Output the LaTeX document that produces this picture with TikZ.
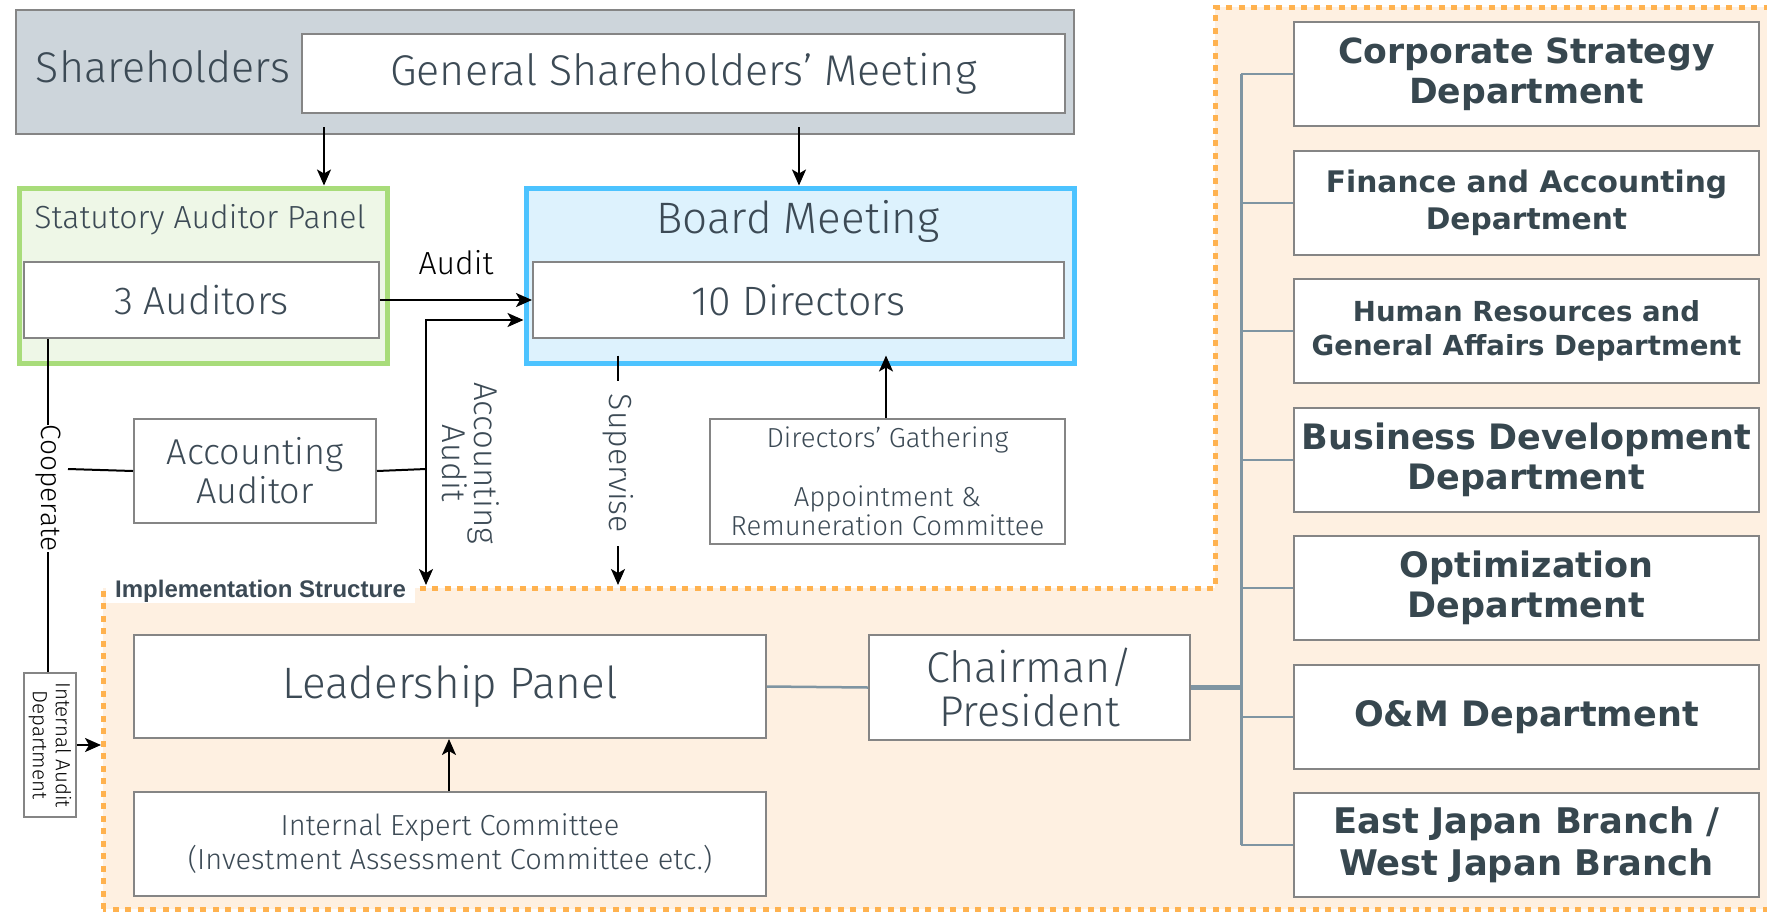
\documentclass[tikz,border=0pt]{standalone}
\usepackage{fontspec}
\setmainfont{Fira Sans Light}
\newfontfamily\deptfont{DejaVu Sans}
\newfontfamily\tagfont{Liberation Sans}
\usetikzlibrary{arrows.meta,calc}

\definecolor{ink}{HTML}{3C4A55}
\definecolor{deptink}{HTML}{37474F}
\definecolor{framegray}{HTML}{858585}
\definecolor{shfill}{HTML}{CDD5DB}
\definecolor{auditgreen}{HTML}{A8DC7A}
\definecolor{auditfill}{HTML}{EEF7E7}
\definecolor{boardblue}{HTML}{4CC3FF}
\definecolor{boardfill}{HTML}{DDF2FD}
\definecolor{implfill}{HTML}{FEF0E1}
\definecolor{impldot}{HTML}{FFB24F}
\definecolor{linkgray}{HTML}{7F95A2}

\newcommand\fs[2]{\fontsize{#1}{#2}\selectfont}

\begin{document}
\begin{tikzpicture}[x=1pt,y=-1pt,
  every node/.style={inner sep=0pt},
  box/.style={draw=framegray,line width=2pt,fill=white,anchor=north west,text=ink,align=center},
  dept/.style={box,minimum width=465pt,minimum height=104pt,text=deptink},
  arr/.style={line width=2pt,-{Stealth[length=16pt,width=14pt,inset=4pt]}},
  plain/.style={line width=2pt},
  link/.style={draw=linkgray,line width=2.5pt}]

\useasboundingbox (0,0) rectangle (1767,911);
\clip (0,0) rectangle (1767,911);

% implementation area (dotted outline)
\draw[fill=implfill,draw=impldot,line width=5pt,dash pattern=on 6pt off 6.5pt]
  (103,909) -- (103,588) -- (1215,588) -- (1215,7) -- (1790,7) -- (1790,909) -- cycle;
\node[fill=white,anchor=north west,text=ink,font=\tagfont\bfseries\fs{24}{24},
  inner xsep=9pt,text height=17pt,text depth=6pt] (impltag) at (106,580) {Implementation Structure};

% shareholders
\node[draw=framegray,line width=1.5pt,fill=shfill,anchor=north west,
  minimum width=1058pt,minimum height=124pt] (sh) at (15,9) {};
\node[anchor=base,text=ink,font=\fs{43}{50}] (shtext) at (163,82) {Shareholders};
\node[box,minimum width=763pt,minimum height=79pt,font=\fs{43}{50}] (gsm) at (301,33)
  {General Shareholders’ Meeting};

% statutory auditors
\node[draw=auditgreen,line width=5pt,fill=auditfill,anchor=north west,
  minimum width=368pt,minimum height=175pt] (sap) at (16.5,185.5) {};
\node[anchor=base,text=ink,font=\fs{32}{38}] (saptitle) at (200,228) {Statutory Auditor Panel};
\node[box,minimum width=355pt,minimum height=76pt,font=\fs{39}{44}] (aud) at (23,261) {3 Auditors};

% board
\node[draw=boardblue,line width=5pt,fill=boardfill,anchor=north west,
  minimum width=548pt,minimum height=175pt] (board) at (523.5,185.5) {};
\node[anchor=base,text=ink,font=\fs{44}{50}] (boardtitle) at (798,233) {Board Meeting};
\node[box,minimum width=531pt,minimum height=76pt,font=\fs{41}{46}] (dir) at (532,261) {10 Directors};

% accounting auditor, internal audit, directors' gathering
\node[box,minimum width=242pt,minimum height=104pt,font=\fs{36}{39}] (aa) at (133,418)
  {Accounting\\Auditor};
\node[box,minimum width=52pt,minimum height=144pt] (iad) at (23,672) {};
\node[rotate=-90,align=center,text=black,font=\fs{20.5}{23}] (iadtext) at (iad.center)
  {Internal Audit\\Department};
\node[box,minimum width=355pt,minimum height=125pt,font=\fs{27.5}{29.5}] (dg) at (709,418)
  {Directors’ Gathering\\[29.5pt]Appointment \&\\Remuneration Committee};

% implementation structure
\node[box,minimum width=632pt,minimum height=103pt,font=\fs{44}{50}] (lp) at (133,634) {Leadership Panel};
\node[box,minimum width=632pt,minimum height=104pt,font=\fs{29}{34}] (iec) at (133,791)
  {Internal Expert Committee\\(Investment Assessment Committee etc.)};
\node[box,minimum width=321pt,minimum height=105pt,font=\fs{43}{44}] (ch) at (868,634)
  {Chairman/\\President};

% departments
\node[dept,font=\deptfont\bfseries\fs{34.6}{40}] (d1) at (1293,21) {Corporate Strategy\\Department};
\node[dept,font=\deptfont\bfseries\fs{29.7}{37}] (d2) at (1293,150) {Finance and Accounting\\Department};
\node[dept,font=\deptfont\bfseries\fs{27.6}{34}] (d3) at (1293,278) {Human Resources and\\General Affairs Department};
\node[dept,font=\deptfont\bfseries\fs{35}{39.5}] (d4) at (1293,407) {Business Development\\Department};
\node[dept,font=\deptfont\bfseries\fs{35}{39.5}] (d5) at (1293,535) {Optimization\\Department};
\node[dept,font=\deptfont\bfseries\fs{35}{40}] (d6) at (1293,664) {O\&M Department};
\node[dept,font=\deptfont\bfseries\fs{35.3}{42}] (d7) at (1293,792) {East Japan Branch /\\West Japan Branch};

% reference columns and rows for connectors
\coordinate (xsap) at (324,0);
\coordinate (xboard) at (799,0);
\coordinate (acj) at (426,469);
\coordinate (acup) at (426,320);
\coordinate (impltop) at (0,585);
\coordinate (xsup) at (618,0);
\coordinate (xdg) at (886,0);
\coordinate (xcoop) at (48,0);
\coordinate (coopend) at (68,469);
\coordinate (impleft) at (101,0);
\coordinate (xiec) at (449,0);
\coordinate (tr) at (1241,0);

% top-level arrows
\draw[arr] ($(gsm.south -| xsap)+(0,13)$) -- (sap.north -| xsap);
\draw[arr] ($(gsm.south -| xboard)+(0,13)$) -- (board.north -| xboard);

% audit
\draw[arr] (aud.east) -- (dir.west) node[midway,anchor=base,yshift=26pt,text=black,font=\fs{32}{36}] (audittext) {Audit};

% accounting audit
\draw[plain] (aa.east) -- (acj);
\draw[arr] (acj) -- (acup) -- (acup -| board.west);
\draw[arr] (acj) -- (acj |- impltop);
\node[rotate=-90,align=center,text=ink,font=\fs{33}{32}] (acctext) at (471,463) {Accounting\\Audit};

% supervise
\draw[arr] ($(board.south -| xsup)+(0,-10)$) -- (xsup |- impltop)
  node[pos=0.47,fill=white,rotate=-90,inner xsep=13pt,text=ink,font=\fs{32}{36}] (suptext) {Supervise};

% directors' gathering to board
\draw[arr] (dg.north -| xdg) -- ($(board.south -| xdg)+(0,-10)$);

% cooperate
\draw[plain] (aud.south -| xcoop) -- (iad.north -| xcoop)
  node[pos=0.448,fill=white,rotate=-90,text=black,font=\fs{28}{32}] (cooptext) {Cooperate};
\draw[plain] (aa.west) -- (coopend);

% internal audit into implementation
\draw[arr] (iad.east) -- (iad.east -| impleft);

% expert committee to leadership panel
\draw[arr] (iec.north -| xiec) -- (lp.south -| xiec);

% chairman and departments
\draw[link] (lp.east) -- (ch.west);
\draw[link,line width=5pt] (ch.east) -- (ch.east -| tr);
\draw[link,line width=3pt] (d1.west -| tr) -- (d7.west -| tr);
\foreach \i in {1,...,7} \draw[link] (d\i.west -| tr) -- (d\i.west);

\end{tikzpicture}
\end{document}
